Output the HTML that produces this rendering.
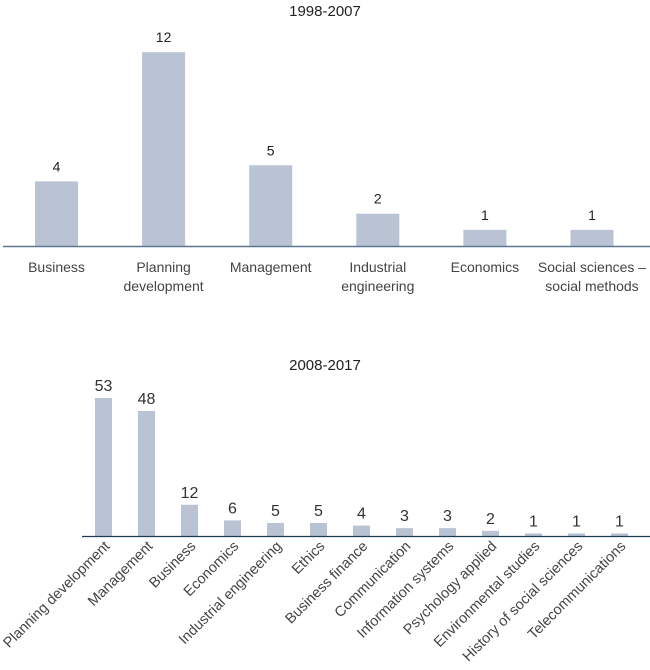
<!DOCTYPE html>
<html><head><meta charset="utf-8"><style>
html,body{margin:0;padding:0;background:#fff;}
svg{display:block;font-family:"Liberation Sans","DejaVu Sans",sans-serif;}
</style></head><body>
<svg id="c" width="650" height="670"></svg>
<script>
const topCats=["Business","Planning development","Management","Industrial engineering","Economics","Social sciences – social methods"];
const topLines=[["Business"],["Planning","development"],["Management"],["Industrial","engineering"],["Economics"],["Social sciences –","social methods"]];
const topVals=[4,12,5,2,1,1];
const botCats=["Planning development","Management","Business","Economics","Industrial engineering","Ethics","Business finance","Communication","Information systems","Psychology applied","Environmental studies","History of social sciences","Telecommunications"];
const botVals=[53,48,12,6,5,5,4,3,3,2,1,1,1];
const NS="http://www.w3.org/2000/svg";
const svg=document.getElementById('c');
function mk(t,a,p){const e=document.createElementNS(NS,t);for(const k in a)e.setAttribute(k,a[k]);(p||svg).appendChild(e);return e;}
const BAR="#b9c3d3";
// top chart
const tX=i=>56.5+i*107.1, tBase=246, tY=v=>tBase-v*16.15;
let t=mk('text',{x:325,y:16,'text-anchor':'middle','font-size':15,fill:'#222'});t.textContent="1998-2007";


topVals.forEach((v,i)=>{
 let r=mk('rect',{x:tX(i)-21.5,y:tY(v),width:43,height:tBase-tY(v),fill:BAR});
 
 
 let l=mk('text',{x:tX(i),y:tY(v)-10,'text-anchor':'middle','font-size':14,fill:'#222'});l.textContent=v;
 
 
 topLines[i].forEach((s,j)=>{
  let c=mk('text',{x:tX(i),y:272+j*19,'text-anchor':'middle','font-size':14,fill:'#444'});c.textContent=s;
  
  
 });
});
let a1=mk('line',{x1:3,y1:tBase+0.5,x2:650,y2:tBase+0.5,stroke:'#5e7690','stroke-width':1.5});


// bottom chart
const bX=i=>103.5+i*43, bBase=536, bY=v=>bBase-v*2.604;
let t2=mk('text',{x:325,y:370,'text-anchor':'middle','font-size':15,fill:'#222'});t2.textContent="2008-2017";


botVals.forEach((v,i)=>{
 let r=mk('rect',{x:bX(i)-8.5,y:bY(v),width:17,height:bBase-bY(v),fill:BAR});
 
 
 let l=mk('text',{x:bX(i),y:bY(v)-7,'text-anchor':'middle','font-size':16,fill:'#333'});l.textContent=v;
 
 
 let c=mk('text',{x:bX(i)+7,y:547,'text-anchor':'end','font-size':14.5,fill:'#444',transform:`rotate(-45 ${bX(i)+7} 547)`});c.textContent=botCats[i];
 
 
});
let a2=mk('line',{x1:82,y1:bBase+0.5,x2:650,y2:bBase+0.5,stroke:'#1f3a55','stroke-width':1.2});


</script>
</body></html>
